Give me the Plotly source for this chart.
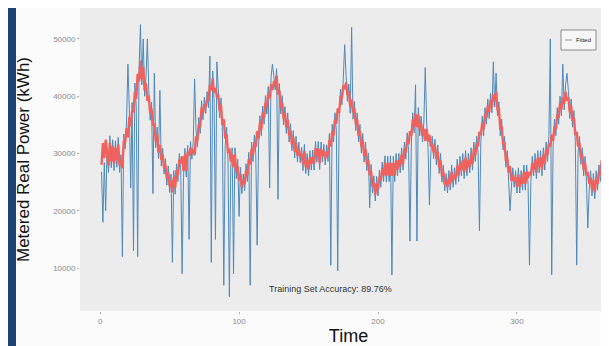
import plotly.graph_objects as go

# Fitted values (thousand kWh), day 1..365
fitted_k = [
    28.0, 31.8, 29.2, 32.4, 30.1, 27.9, 31.9, 28.6, 31.3, 28.2,
    31.0, 28.8, 31.6, 27.9, 28.9, 27.4, 32.2, 31.9, 34.4, 32.8,
    36.4, 34.7, 37.5, 37.2, 40.8, 39.5, 43.9, 42.6, 46.2, 43.0,
    45.1, 41.0, 42.3, 39.2, 40.1, 37.0, 37.9, 34.8, 35.2, 32.1,
    33.4, 30.2, 31.5, 28.9, 29.8, 27.5, 28.0, 25.6, 26.7, 24.3,
    25.3, 23.2, 25.9, 24.0, 27.1, 26.2, 28.9, 28.3, 29.5, 26.9,
    29.8, 27.0, 30.3, 29.6, 31.0, 30.1, 30.8, 29.7, 33.0, 32.2,
    35.1, 34.6, 38.0, 37.0, 38.6, 38.1, 39.5, 39.2, 42.0, 41.0,
    43.1, 40.6, 41.5, 40.0, 40.1, 37.4, 38.5, 35.0, 36.0, 32.6,
    33.4, 30.1, 30.9, 28.6, 29.9, 27.6, 29.8, 26.7, 27.8, 25.3,
    26.4, 24.1, 25.3, 24.6, 27.0, 26.2, 29.0, 28.1, 30.8, 29.7,
    32.0, 31.1, 33.9, 32.6, 35.4, 34.2, 37.1, 36.2, 38.9, 38.0,
    40.5, 39.6, 42.1, 41.1, 42.4, 42.2, 43.6, 40.3, 41.0, 38.0,
    38.9, 36.1, 37.0, 34.6, 35.9, 33.1, 34.0, 31.6, 32.8, 30.3,
    31.8, 29.6, 30.8, 29.5, 29.9, 28.1, 30.4, 27.6, 28.8, 27.2,
    29.3, 28.2, 29.4, 28.2, 30.9, 29.6, 30.9, 28.3, 30.8, 29.6,
    30.4, 29.1, 30.3, 29.7, 32.3, 31.2, 33.9, 33.1, 35.9, 35.2,
    37.9, 37.1, 40.0, 39.6, 41.9, 41.2, 42.4, 40.2, 40.9, 38.1,
    39.4, 37.1, 37.9, 35.1, 35.9, 33.1, 33.9, 31.2, 32.3, 29.6,
    30.8, 28.1, 28.9, 26.2, 26.9, 24.2, 24.9, 22.8, 24.8, 23.7,
    25.9, 25.2, 27.3, 26.2, 28.4, 26.1, 28.3, 26.2, 28.4, 26.1,
    28.3, 26.2, 28.8, 27.2, 28.8, 27.7, 29.8, 28.2, 30.8, 30.1,
    32.4, 31.6, 33.9, 33.1, 35.9, 34.7, 36.9, 34.6, 36.8, 34.2,
    35.3, 33.1, 34.3, 32.2, 34.3, 32.1, 33.3, 31.2, 31.8, 30.2,
    31.3, 29.1, 30.3, 27.6, 28.8, 26.1, 26.8, 24.6, 25.3, 24.2,
    25.8, 24.7, 26.8, 25.2, 26.3, 25.7, 27.8, 26.2, 28.3, 27.2,
    28.8, 26.7, 29.3, 27.2, 28.8, 27.7, 29.8, 28.2, 30.8, 29.7,
    31.8, 31.2, 33.8, 33.2, 35.3, 34.2, 36.8, 36.2, 38.3, 37.2,
    39.3, 38.2, 40.3, 39.2, 40.8, 37.7, 37.8, 34.2, 34.8, 31.7,
    31.8, 28.7, 29.3, 26.7, 27.8, 25.2, 26.3, 25.2, 25.8, 24.2,
    26.3, 24.2, 25.8, 24.7, 26.8, 24.7, 26.8, 25.7, 26.8, 26.2,
    28.3, 27.2, 28.8, 26.7, 29.3, 27.7, 29.3, 27.2, 29.8, 28.2,
    30.8, 29.7, 31.8, 31.2, 33.3, 32.2, 34.8, 34.2, 36.8, 36.2,
    38.8, 37.7, 39.8, 38.7, 40.8, 39.2, 39.8, 37.2, 38.3, 35.7,
    36.3, 33.2, 33.8, 31.2, 31.8, 29.2, 29.8, 27.2, 28.3, 26.2,
    26.8, 24.7, 25.8, 23.7, 25.3, 23.2, 25.8, 24.7, 26.8, 26.2,
    28.8, 27.7, 28.8, 26.7, 27.8,
]

# Metered values (thousand kWh), day 1..365
actual_k = [
    26.8, 18.0, 28.4, 20.0, 31.0, 26.7, 33.1, 27.5, 32.4, 27.0,
    32.2, 27.6, 32.8, 26.7, 29.8, 12.0, 33.4, 30.8, 35.6, 45.6,
    37.8, 24.0, 38.9, 13.0, 42.3, 38.1, 12.0, 44.6, 52.5, 42.0,
    50.0, 40.0, 43.6, 50.0, 41.2, 35.8, 39.0, 23.0, 44.0, 31.0,
    34.6, 29.1, 41.0, 27.8, 30.9, 26.4, 29.1, 24.5, 27.8, 23.2,
    26.4, 11.0, 27.0, 22.9, 28.2, 25.1, 30.0, 27.2, 9.0, 25.8,
    30.9, 25.9, 31.4, 15.0, 32.1, 29.0, 31.9, 43.0, 34.1, 31.1,
    36.3, 33.5, 39.2, 35.9, 39.8, 37.0, 40.8, 38.0, 47.0, 11.0,
    44.4, 39.4, 15.0, 46.0, 41.3, 36.2, 39.7, 33.8, 7.0, 31.4,
    34.6, 29.0, 5.0, 27.5, 31.0, 9.0, 31.0, 25.6, 29.0, 19.0,
    27.6, 23.0, 26.4, 23.5, 28.2, 25.1, 30.2, 7.0, 32.0, 28.6,
    33.2, 30.0, 14.0, 31.5, 36.6, 33.1, 38.3, 35.1, 40.1, 36.9,
    41.7, 24.0, 43.3, 45.6, 43.6, 41.1, 44.8, 22.0, 42.2, 36.9,
    40.1, 35.0, 38.2, 33.5, 37.1, 32.0, 35.2, 30.5, 34.0, 29.2,
    33.0, 28.5, 32.0, 28.4, 31.1, 27.0, 31.6, 26.5, 30.0, 26.1,
    30.5, 27.1, 30.6, 27.1, 32.1, 28.5, 32.1, 27.2, 32.0, 28.5,
    31.6, 28.0, 31.5, 28.6, 33.5, 10.5, 35.1, 32.0, 37.1, 34.1,
    9.5, 36.0, 41.2, 38.5, 43.1, 49.0, 43.6, 39.1, 42.1, 37.0,
    52.0, 36.0, 39.1, 34.0, 37.1, 32.0, 35.1, 30.1, 33.5, 28.5,
    32.0, 27.0, 30.1, 20.5, 28.1, 23.1, 26.1, 21.7, 26.0, 22.6,
    27.1, 24.1, 28.5, 25.1, 29.6, 25.0, 29.5, 25.1, 29.6, 8.8,
    29.5, 25.1, 30.0, 26.1, 30.0, 26.6, 31.0, 27.1, 32.0, 29.0,
    33.6, 30.5, 14.7, 32.0, 37.1, 33.6, 42.0, 14.7, 38.0, 33.1,
    36.5, 32.0, 35.5, 45.0, 35.5, 31.0, 21.0, 30.1, 33.0, 29.1,
    32.5, 28.0, 31.5, 26.5, 30.0, 25.0, 28.0, 23.5, 26.5, 23.1,
    27.0, 23.6, 28.0, 24.1, 27.5, 24.6, 29.0, 25.1, 29.5, 26.1,
    30.0, 25.6, 30.5, 26.1, 30.0, 26.6, 31.0, 27.1, 32.0, 28.6,
    33.0, 30.1, 16.5, 32.1, 36.5, 33.1, 38.0, 35.1, 39.5, 36.1,
    40.5, 37.1, 46.0, 38.1, 44.0, 36.6, 39.0, 33.1, 36.0, 30.6,
    33.0, 27.6, 30.5, 25.6, 20.0, 24.1, 27.5, 24.1, 27.0, 23.1,
    27.5, 23.1, 27.0, 23.6, 28.0, 23.6, 28.0, 24.6, 10.5, 25.1,
    29.5, 26.1, 30.0, 25.6, 30.5, 26.6, 30.5, 26.1, 31.0, 27.1,
    32.0, 28.6, 33.0, 50.0, 8.8, 31.1, 36.0, 33.1, 38.0, 35.1,
    40.0, 36.6, 45.6, 37.6, 42.0, 44.0, 41.0, 36.1, 39.5, 34.6,
    37.5, 32.1, 10.5, 30.1, 33.0, 28.1, 31.0, 26.1, 29.5, 25.1,
    17.0, 23.6, 27.0, 22.6, 26.5, 22.1, 27.0, 23.6, 28.0, 25.1,
    30.0, 26.6, 30.0, 4.0, 29.0,
]

x_ticks = [0, 100, 200, 300]
y_ticks = [10000, 20000, 30000, 40000, 50000]
accuracy_text = "Training Set Accuracy: 89.76%"
legend_label = "Fitted"

n = min(len(fitted_k), len(actual_k))
days = list(range(1, n + 1))
fitted = [v * 1000 for v in fitted_k[:n]]
actual = [v * 1000 for v in actual_k[:n]]

fig = go.Figure()
fig.add_trace(go.Scatter(x=days, y=actual, mode="lines", name="Metered",
                         line=dict(color="#3f7fb6", width=1), opacity=0.9, showlegend=False))
fig.add_trace(go.Scatter(x=days, y=fitted, mode="lines", name=legend_label,
                         line=dict(color="#f0625d", width=2.4), showlegend=False))

PW, PH, L, B = 537, 303, 72, 43


def px(x):
    return (x - L) / PW


def py(y):
    return (PH - y) / PH


fig.update_layout(
    width=609, height=346,
    margin=dict(l=L, r=0, t=0, b=B),
    paper_bgcolor="#fbfbfb",
    plot_bgcolor="#ececec",
    font=dict(family="Liberation Sans, Arial, sans-serif"),
    xaxis=dict(range=[-14.5, 372], tickvals=x_ticks, showgrid=False, zeroline=False,
               ticks="outside", ticklen=2, tickcolor="#aaaaaa",
               tickfont=dict(size=8, color="#8a8a8a"),
               title=dict(text="Time", font=dict(size=18, color="#111111"), standoff=4)),
    yaxis=dict(range=[2500, 55400], tickvals=y_ticks, tickformat="d",
               showgrid=False, zeroline=False,
               ticks="outside", ticklen=2, tickcolor="#aaaaaa",
               tickfont=dict(size=8, color="#8a8a8a"),
               title=dict(text="Metered Real Power (kWh)", font=dict(size=17, color="#111111"), standoff=19)),
    showlegend=False,
)

fig.add_annotation(text=accuracy_text, x=0.466, y=0.05, xref="paper", yref="paper",
                   showarrow=False, font=dict(size=9, color="#333333"))

# legend box drawn as decoration
fig.add_shape(type="rect", xref="paper", yref="paper",
              x0=px(553), x1=px(588), y0=py(42), y1=py(22),
              fillcolor="#f7f7f7", line=dict(color="#8a8a8a", width=1))
fig.add_shape(type="line", xref="paper", yref="paper",
              x0=px(557), x1=px(564), y0=py(32), y1=py(32),
              line=dict(color="#999999", width=1))
fig.add_annotation(text=legend_label, x=px(566), y=py(32), xref="paper", yref="paper",
                   xanchor="left", yanchor="middle", showarrow=False,
                   font=dict(size=6, color="#222222"))

# dark left border strip
fig.add_shape(type="rect", xref="paper", yref="paper",
              x0=-L / PW, x1=(8 - L) / PW, y0=-B / PH, y1=1,
              fillcolor="#1e4274", line=dict(width=0), layer="above")

fig.write_html("out.html")
